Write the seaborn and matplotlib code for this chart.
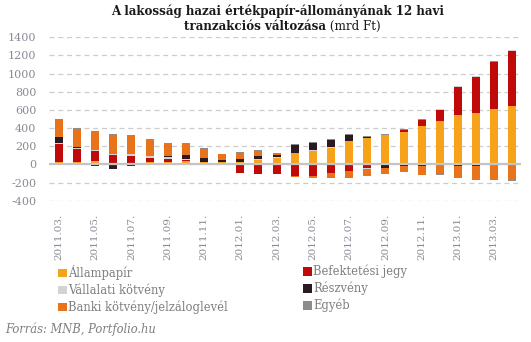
import numpy as np
import matplotlib
matplotlib.use("Agg")
import matplotlib.pyplot as plt
import seaborn as sns
from matplotlib.patches import Patch

# Monthly periods (12-month transactions, bn HUF)
months = ["2011.03.", "2011.04.", "2011.05.", "2011.06.", "2011.07.", "2011.08.",
          "2011.09.", "2011.10.", "2011.11.", "2011.12.", "2012.01.", "2012.02.",
          "2012.03.", "2012.04.", "2012.05.", "2012.06.", "2012.07.", "2012.08.",
          "2012.09.", "2012.10.", "2012.11.", "2012.12.", "2013.01.", "2013.02.",
          "2013.03.", "2013.04."]

allampapir = [26, 26, 37, 15, 11, 22, 26, 40, 29, 29, 29, 50, 73, 125, 147, 180,
              257, 292, 323, 356, 422, 477, 543, 565, 609, 642]
befektetesi_jegy = [198, 143, 110, 88, 77, 46, 33, 11, 0, 0, -95, -106, -106, -127,
                    -127, -95, -73, -38, 0, 26, 68, 121, 308, 396, 517, 602]
vallalati_kotveny = [11, 7, 11, 11, 22, 22, 22, 7, 0, 0, 0, 7, 7, 0, 11, 11, 0, -11,
                     0, 0, 0, 7, 11, 11, 0, 11]
reszveny = [66, 15, -15, -51, -15, 0, 11, 44, 38, 15, 29, 35, 24, 90, 77, 77, 66, 11,
            -35, -13, -16, 0, -18, -18, 0, 0]
banki_kotveny = [198, 198, 198, 209, 202, 176, 136, 125, 99, 68, 64, 53, 16, -13, -24,
                 -55, -77, -77, -70, -72, -105, -106, -121, -147, -169, -172]
egyeb = [3, 11, 11, 15, 11, 11, 7, 7, 11, 7, 11, 12, 7, 9, 11, 11, 11, 7, 11, 7, 9,
         -11, -7, -7, 18, -15]

series_names = ["Állampapír", "Befektetési jegy", "Vállalati kötvény", "Részvény",
                "Banki kötvény/jelzáloglevél", "Egyéb"]
series_values = [allampapir, befektetesi_jegy, vallalati_kotveny, reszveny,
                 banki_kotveny, egyeb]
series_colors = ["#F7A21B", "#C00A0A", "#D3D3D3", "#2B1A21", "#E8731A", "#8C8C8C"]

sns.set_theme(style="white")
plt.rcParams["font.family"] = ["DejaVu Serif"]

fig = plt.figure(figsize=(5.31, 3.42), dpi=100)
ax = fig.add_axes([0.092, 0.413, 0.889, 0.478])

vals = np.array(series_values, dtype=float)
pos_cum = np.cumsum(np.clip(vals, 0, None), axis=0)
neg_cum = np.cumsum(np.clip(vals, None, 0), axis=0)

# stacked bars: draw cumulative totals from the top layer down
for k in reversed(range(len(series_names))):
    for cum in (pos_cum[k], neg_cum[k]):
        sns.barplot(x=months, y=cum, order=months, color=series_colors[k],
                    saturation=1, width=0.44, linewidth=0, errorbar=None, ax=ax)

ax.set_xlim(-0.55, 25.47)
ax.set_ylim(-400, 1400)
ax.set_yticks(range(-400, 1401, 200))
ax.set_yticklabels([str(v) for v in range(-400, 1401, 200)])
ax.set_xticks(range(0, len(months), 2))
ax.set_xticklabels(months[::2], rotation=90)
ax.set_xlabel("")
ax.set_ylabel("")

ax.set_axisbelow(True)
ax.yaxis.grid(True, linestyle=(0, (4, 3)), color="#cccccc", linewidth=0.9)
ax.xaxis.grid(False)
ax.axhline(0, color="#c4c4c4", linewidth=1.6, zorder=5)
for s in ax.spines.values():
    s.set_visible(False)
ax.tick_params(axis="both", length=0)
ax.tick_params(axis="y", pad=9, labelsize=8, labelcolor="#8a8a96")
ax.tick_params(axis="x", pad=9, labelsize=7.5, labelcolor="#8a8a96")

# title: bold first part, regular unit part on the second line
fig.text(0.522, 1 - 15 / 342, "A lakosság hazai értékpapír-állományának 12 havi",
         ha="center", va="baseline", fontsize=8.6, fontweight="bold", color="#1a1a1a")
fig.canvas.draw()
r = fig.canvas.get_renderer()
t_b = fig.text(0, 0, "tranzakciós változása", fontsize=8.6, fontweight="bold",
               color="#1a1a1a", va="baseline")
t_n = fig.text(0, 0, " (mrd Ft)", fontsize=8.6, color="#1a1a1a", va="baseline")
wb = t_b.get_window_extent(r).width
wn = t_n.get_window_extent(r).width
x0 = 282 - (wb + wn) / 2
y2 = 1 - 30 / 342
t_b.set_position((x0 / 531, y2))
t_n.set_position(((x0 + wb) / 531, y2))

# legend in two columns
handles = [Patch(facecolor=c, edgecolor="none") for c in series_colors]
leg_kw = dict(frameon=False, fontsize=8.3, handlelength=0.75, handleheight=0.75,
              handletextpad=0.15, labelspacing=0.3, borderpad=0, borderaxespad=0,
              labelcolor="#7f7f7f", loc="upper left")
fig.legend([handles[0], handles[2], handles[4]],
           [series_names[0], series_names[2], series_names[4]],
           bbox_to_anchor=(58 / 531, 1 - 265 / 342), **leg_kw)
fig.legend([handles[1], handles[3], handles[5]],
           [series_names[1], series_names[3], series_names[5]],
           bbox_to_anchor=(303 / 531, 1 - 265 / 342), **leg_kw)

fig.text(5 / 531, 1 - 333 / 342, "Forrás: MNB, Portfolio.hu", fontsize=8.3,
         style="italic", color="#7f7f7f", va="baseline")

fig.savefig("out.png", dpi=100)
